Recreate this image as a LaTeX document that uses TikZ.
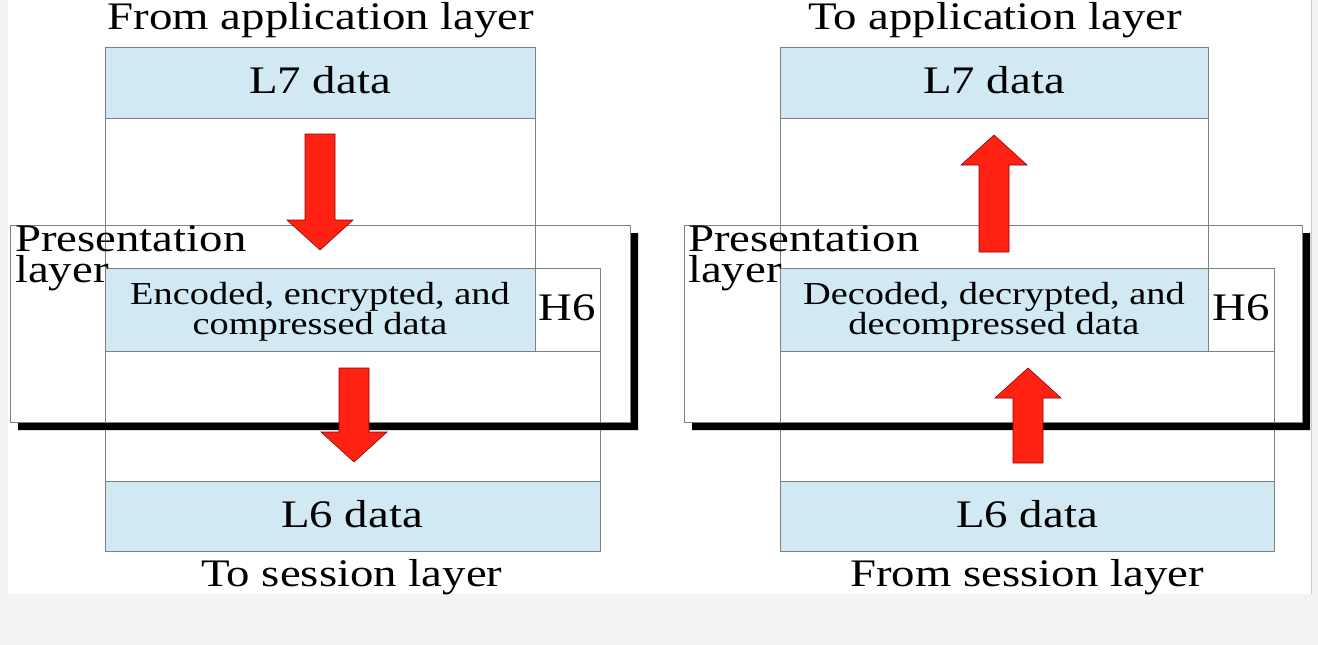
\documentclass[tikz,border=0pt]{standalone}
\usepackage{fontspec}
\setmainfont{Liberation Serif}
\usepackage{graphicx}
\usetikzlibrary{positioning}
\definecolor{ciel}{RGB}{208,233,242}
\definecolor{rouge}{RGB}{255,34,18}
\definecolor{fond}{RGB}{243,243,243}
\colorlet{trait}{black!50}
\newcommand\wide[1]{\scalebox{1.2}[1]{#1}}
% big red arrow: x, tail, head base, tip
\newcommand\fleche[4]{\filldraw[fill=rouge,draw=red!55!black,line width=.6pt]
  (#1-15,#2) -- (#1+15,#2) -- (#1+15,#3) -- (#1+33,#3) -- (#1,#4)
  -- (#1-33,#3) -- (#1-15,#3) -- cycle;}

\begin{document}
\begin{tikzpicture}[x=1pt,y=-1pt,
    box/.style={draw=trait,line width=1pt,fill=white},
    data/.style={box,fill=ciel},
    lbl/.style={font=\fontsize{39}{31}\selectfont,inner sep=0pt,anchor=base},
    inner/.style={font=\fontsize{32}{30}\selectfont,inner sep=0pt,align=center}]%
        \useasboundingbox (0,0) rectangle (1318,645);%%
        \fill[fond] (0,0) rectangle (1318,645);%%
        \fill[white] (8,0) rectangle (1311,594);%%
        \draw[black!20] (1311,0) -- (1311,594);%%
        % left side: sending
        \draw[box] (105,118) rectangle (535,268);%%
        \draw[data] (105,47) rectangle (535,118);%%
        \draw[data] (105,268) rectangle (535,351);%%
        \draw[box] (535,268) rectangle (600,351);%%
        \draw[box] (105,351) rectangle (600,481);%%
        \draw[data] (105,481) rectangle (600,551);%%
        \fill[black] (630,233) -- (638,233) -- (638,430) -- (18,430) -- (18,422) -- (630,422) -- cycle;%%
        \draw[trait,line width=1pt] (10,225) rectangle (630,422);%%
        % right side: receiving
        \draw[box] (780,118) rectangle (1208,268);%%
        \draw[data] (780,47) rectangle (1208,118);%%
        \draw[data] (780,268) rectangle (1208,351);%%
        \draw[box] (1208,268) rectangle (1274,351);%%
        \draw[box] (780,351) rectangle (1274,481);%%
        \draw[data] (780,481) rectangle (1274,551);%%
        \fill[black] (1302,233) -- (1310,233) -- (1310,430) -- (692,430) -- (692,422) -- (1302,422) -- cycle;%%
        \draw[trait,line width=1pt] (684,225) rectangle (1302,422);%%
        \node[lbl] (fromapp) at (321,30) {\wide{From application layer}};%%
        \node[lbl] (l7a) at (320,93) {\wide{L7 data}};%%
        \node[inner] (enc) at (320,311.5) {\wide{Encoded, encrypted, and}\\\wide{compressed data}};%%
        \node[lbl] (h6a) at (567,320) {\wide{H6}};%%
        \node[lbl] (l6a) at (352,527) {\wide{L6 data}};%%
        \node[lbl] (tosess) at (352,586) {\wide{To session layer}};%%
        \node[lbl,align=left,anchor=north west] (presa) at (15,225) {\wide{Presentation}\\\wide{layer}};%%
        \node[lbl] (toapp) at (995,30) {\wide{To application layer}};%%
        \node[lbl] (l7b) at (994,93) {\wide{L7 data}};%%
        \node[inner] (dec) at (994,311.5) {\wide{Decoded, decrypted, and}\\\wide{decompressed data}};%%
        \node[lbl] (h6b) at (1241,320) {\wide{H6}};%%
        \node[lbl] (l6b) at (1027,527) {\wide{L6 data}};%%
        \node[lbl] (fromsess) at (1027,586) {\wide{From session layer}};%%
        \node[lbl,align=left,anchor=north west] (presb) at (688,225) {\wide{Presentation}\\\wide{layer}};%%
        \fleche{320}{134}{220}{250}%%
        \fleche{354}{368}{432}{462}%%
        \fleche{994}{252}{165}{135}%%
        \fleche{1028}{463}{398}{368}%%
\end{tikzpicture}
\end{document}
